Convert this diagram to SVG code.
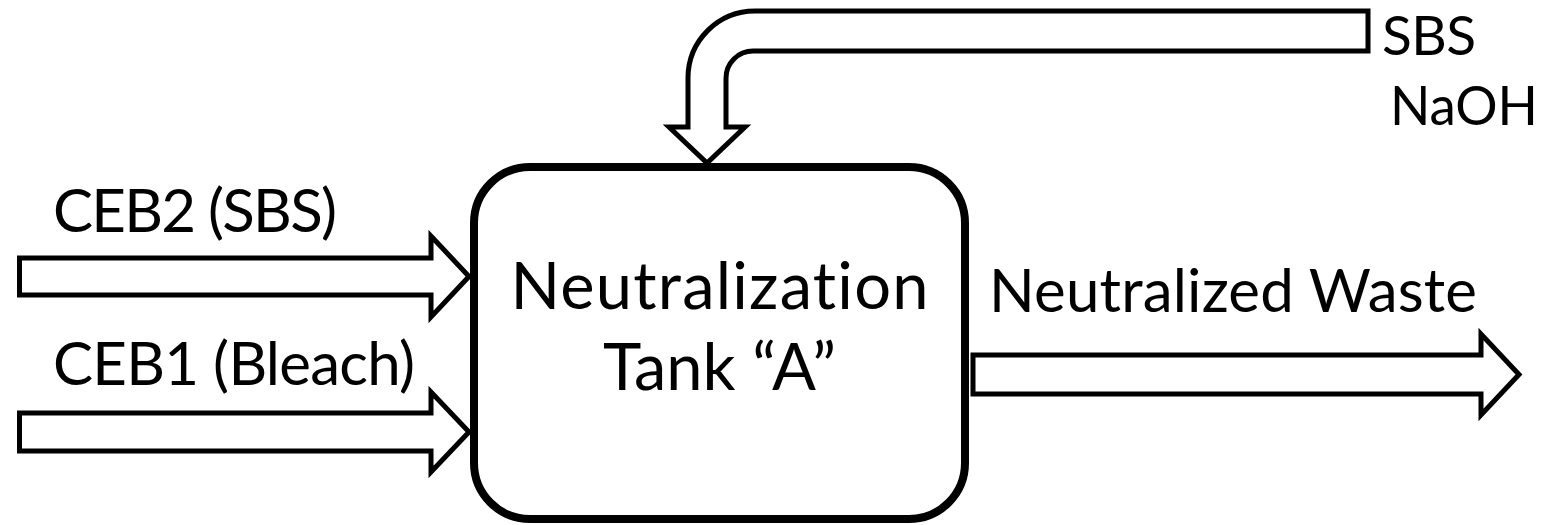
<svg xmlns="http://www.w3.org/2000/svg" width="1550" height="525" viewBox="0 0 1550 525">
<style>
.arrow{fill:#fff;stroke:#000;stroke-width:5;stroke-linejoin:miter;stroke-miterlimit:10}
.tank{fill:#fff;stroke:#000;stroke-width:8}
.lbl{font-family:Lato,"Liberation Sans",sans-serif;font-size:60px;fill:#000;font-variant-ligatures:none}
.sm{font-size:55px}
.big{font-family:Lato,"Liberation Sans",sans-serif;font-size:65px;fill:#000;text-anchor:middle;font-variant-ligatures:none}
</style>
<rect width="1550" height="525" fill="#fff"/>
<g id="connectors">
<path id="pipe-top" class="arrow" d="M1368,11 L755,11 A67,67 0 0 0 688,78 L688,127 L669,127 L707,163 L745,127 L726,127 L726,78 A27,27 0 0 1 753,51 L1368,51 Z"/>
<path id="arrow-ceb2" class="arrow" d="M19.5,258 L431,258 L431,236 L469,276.5 L431,317 L431,295 L19.5,295 Z"/>
<path id="arrow-ceb1" class="arrow" d="M19.5,413 L431,413 L431,392 L469,432 L431,472 L431,451 L19.5,451 Z"/>
<path id="arrow-out" class="arrow" d="M973,355 L1481,355 L1481,334 L1519,374.5 L1481,415 L1481,394 L973,394 Z"/>
</g>
<g id="tank">
<rect class="tank" x="474" y="167" width="491" height="352" rx="56" ry="56"/>
<text class="big" x="719.5" y="309" textLength="418">Neutralization</text>
<text class="big" x="719.5" y="390">Tank “A”</text>
</g>
<g id="labels">
<text class="lbl sm" x="1382" y="55" textLength="94">SBS</text>
<text class="lbl sm" x="1390" y="125" textLength="148" lengthAdjust="spacingAndGlyphs">NaOH</text>
<text class="lbl" x="53" y="232" textLength="284">CEB2 (SBS)</text>
<text class="lbl" x="53" y="385" textLength="362">CEB1 (Bleach)</text>
<text class="lbl" x="989" y="312" textLength="488">Neutralized Waste</text>
</g>
</svg>
